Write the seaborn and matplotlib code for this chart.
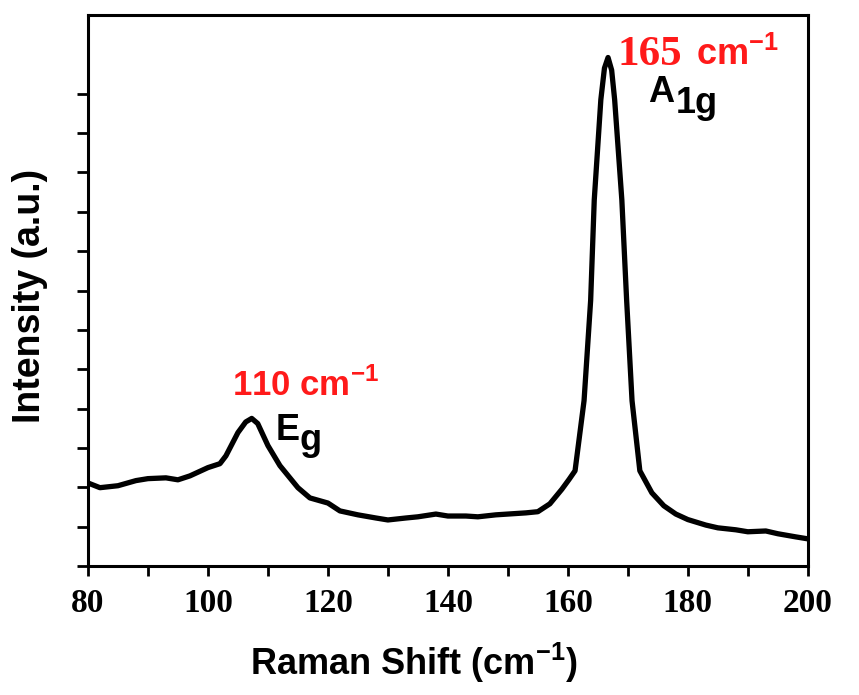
"""Raman spectrum with Eg and A1g modes."""

import matplotlib.pyplot as plt
import numpy as np
import pandas as pd
import seaborn as sns

# Raman shift (cm-1) and intensity (a.u.)
shift = [80, 82, 85, 88, 90, 93, 95, 97, 100, 102, 103, 105, 106.3, 107.3, 108.3,
         110, 112, 115, 117, 120, 122, 125, 128, 130, 133, 135, 138, 140, 143, 145,
         148, 150, 153, 155, 157, 159, 160.2, 161.2, 162.7, 163.8, 164.4, 165.5,
         166.1, 166.7, 167.3, 167.8, 169.0, 169.8, 170.7, 172, 174, 176, 178, 180,
         183, 185, 188, 190, 193, 195, 198, 200]
intensity = [2.11, 1.99, 2.04, 2.17, 2.22, 2.24, 2.19, 2.29, 2.50, 2.60, 2.80, 3.39,
             3.66, 3.75, 3.62, 3.06, 2.55, 1.99, 1.73, 1.60, 1.40, 1.30, 1.22, 1.17,
             1.22, 1.25, 1.32, 1.27, 1.27, 1.25, 1.30, 1.32, 1.35, 1.38, 1.58, 1.95,
             2.20, 2.42, 4.20, 6.75, 9.30, 11.85, 12.65, 12.92, 12.60, 11.85, 9.30,
             6.75, 4.20, 2.42, 1.86, 1.53, 1.32, 1.18, 1.04, 0.97, 0.92, 0.87, 0.89,
             0.82, 0.74, 0.69]

x_ticks = [80, 100, 120, 140, 160, 180, 200]
x_minor = [90, 110, 130, 150, 170, 190]
y_ticks = list(range(0, 13))

spectrum = pd.DataFrame({"shift": shift, "intensity": intensity})

sns.set_theme(style="ticks")
plt.rcParams["font.family"] = ["Liberation Sans", "DejaVu Sans"]
plt.rcParams["text.color"] = "black"
plt.rcParams["axes.labelcolor"] = "black"
plt.rcParams["xtick.color"] = "black"
plt.rcParams["ytick.color"] = "black"
plt.rcParams["mathtext.fontset"] = "custom"
plt.rcParams["mathtext.rm"] = "Liberation Sans:bold"

fig = plt.figure(figsize=(8.59, 6.95), dpi=100)
ax = fig.add_axes([0.1024, 0.1856, 0.838, 0.7928])

sns.lineplot(data=spectrum, x="shift", y="intensity", ax=ax,
             color="black", linewidth=3.8, solid_joinstyle="round")

ax.set_xlim(80, 200)
ax.set_ylim(0, 14)
ax.set_xticks(x_ticks)
ax.set_xticks(x_minor, minor=True)
ax.set_yticks(y_ticks)
ax.set_yticklabels([])

for side in ["top", "right", "bottom", "left"]:
    ax.spines[side].set_linewidth(2.2)
    ax.spines[side].set_color("black")

ax.tick_params(axis="x", which="both", direction="out", length=7, width=2,
               pad=9, labelsize=24)
ax.tick_params(axis="y", which="both", direction="out", length=8, width=2)
for label in ax.get_xticklabels():
    label.set_fontfamily(["Liberation Serif", "DejaVu Serif"])
    label.set_fontweight("bold")

ax.set_xlabel("Raman Shift (cm$^{\\mathregular{-1}}$)", fontsize=26,
              fontweight="bold", labelpad=18)
ax.xaxis.set_label_coords(0.453, -0.135)
ax.set_ylabel("Intensity (a.u.)", fontsize=27, fontweight="bold")
ax.yaxis.set_label_coords(-0.056, 0.49)

red = "#ff1a1a"
ax.text(104.0, 4.33, "110 cm$^{\\mathregular{-1}}$", color=red, fontsize=25,
        fontweight="bold")
ax.text(111.3, 3.2, "E", fontsize=26, fontweight="bold")
ax.text(115.3, 2.95, "g", fontsize=26, fontweight="bold")

ax.text(168.2, 12.74, "165", color=red, fontsize=31, fontweight="bold",
        family=["Liberation Serif", "DejaVu Serif"])
ax.text(181.4, 12.74, "cm$^{\\mathregular{-1}}$", color=red, fontsize=26,
        fontweight="bold")
ax.text(173.3, 11.8, "A", fontsize=26, fontweight="bold")
ax.text(178.0, 11.5, "1g", fontsize=26, fontweight="bold")

fig.savefig("out.png", dpi=100)
plt.close(fig)
